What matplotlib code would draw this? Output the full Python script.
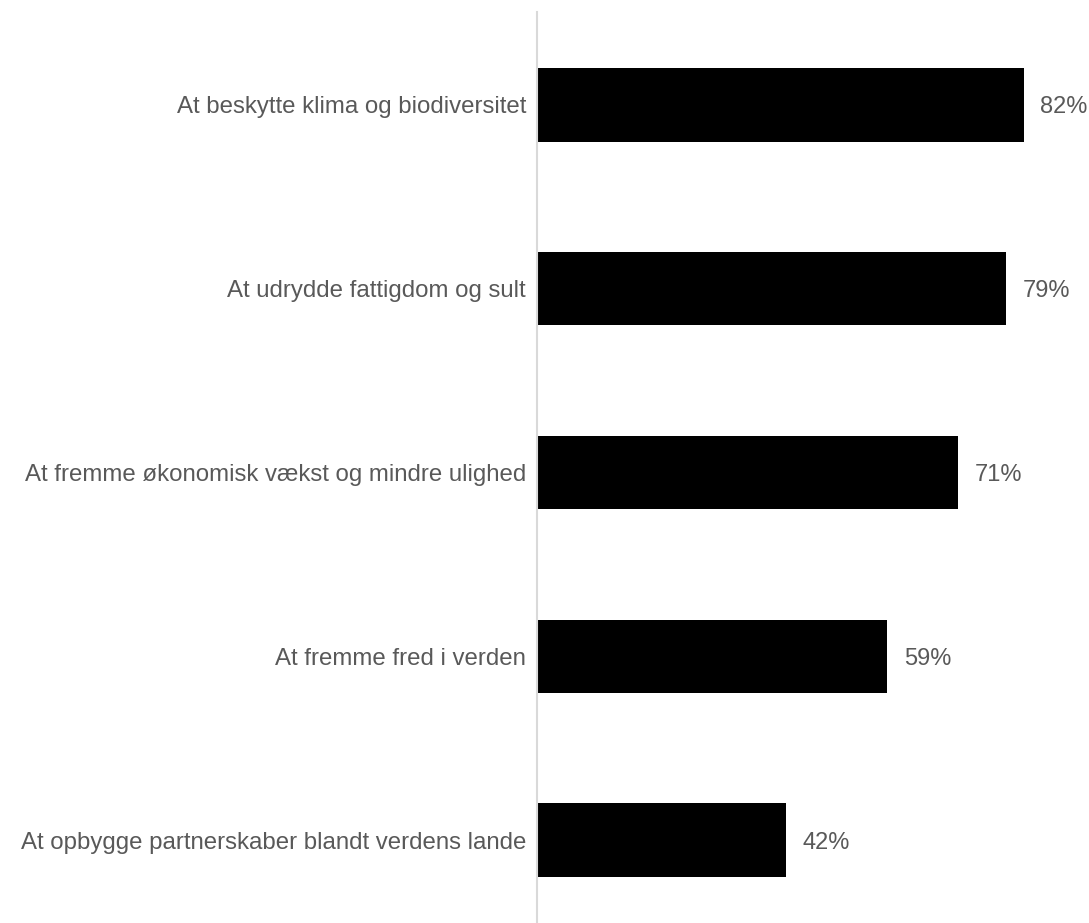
import matplotlib.pyplot as plt

plt.rcParams["font.family"] = ["Liberation Sans", "DejaVu Sans"]

categories = [
    "At beskytte klima og biodiversitet",
    "At udrydde fattigdom og sult",
    "At fremme økonomisk vækst og mindre ulighed",
    "At fremme fred i verden",
    "At opbygge partnerskaber blandt verdens lande",
]
values = [82, 79, 71, 59, 42]
value_labels = ["82%", "79%", "71%", "59%", "42%"]

text_color = "#595959"

fig = plt.figure(figsize=(10.89, 9.23), dpi=100)
ax = fig.add_axes([537 / 1089, 0.0, 1 - 537 / 1089, 1 - 12 / 923])

ypos = list(range(len(categories)))
ax.barh(ypos, values, height=0.4, color="black", zorder=2)

for y, v, lab in zip(ypos, values, value_labels):
    ax.annotate(lab, xy=(v, y), xytext=(12, 0), textcoords="offset points",
                ha="left", va="center_baseline", fontsize=17, color=text_color)

ax.set_xlim(0, 93)
ax.set_ylim(4.45, -0.505)
ax.set_yticks(ypos)
ax.set_yticklabels(categories, fontsize=17.3, color=text_color)
ax.tick_params(axis="y", length=0, pad=8)
ax.set_xticks([])

for side in ["top", "right", "bottom"]:
    ax.spines[side].set_visible(False)
ax.spines["left"].set_color("#d9d9d9")
ax.spines["left"].set_linewidth(1.5)

fig.savefig("out.png", dpi=100)
